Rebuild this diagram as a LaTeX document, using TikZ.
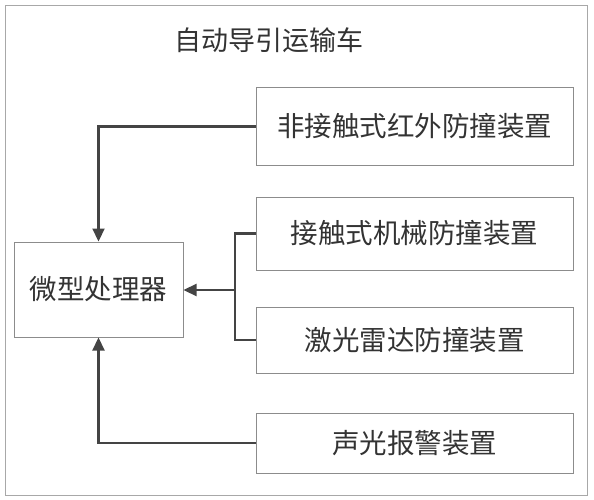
\documentclass[tikz,border=0pt]{standalone}
\usepackage{fontspec}
\newfontfamily\cjk{Noto Sans CJK SC}
\usetikzlibrary{arrows.meta}
\definecolor{boxgray}{HTML}{8C8C8C}
\definecolor{linegray}{HTML}{444444}
\definecolor{txtgray}{HTML}{333333}
\definecolor{framegray}{HTML}{A8A8A8}
\begin{document}
\begin{tikzpicture}[x=1pt,y=-1pt,
  box/.style={draw=boxgray, line width=1pt, rectangle, inner sep=0pt, minimum width=317pt,
    text=txtgray, font=\cjk\fontsize{27.5}{32}\selectfont},
  conn/.style={draw=linegray, line width=2.2pt},
  arr/.style={conn, -{Triangle[length=13pt,width=12pt]}}]
\useasboundingbox (0,0) rectangle (594,500);
\draw[framegray, line width=1pt] (5,6) rectangle (587,495);
\node[text=txtgray, font=\cjk\fontsize{27}{32}\selectfont] (title) at (269,40) {自动导引运输车};
\node[box, minimum height=77pt] (b1) at (414.5,126.5) {非接触式红外防撞装置};
\node[box, minimum height=73pt] (b2) at (414.5,233.5) {接触式机械防撞装置};
\node[box, minimum height=66pt] (b3) at (414.5,340) {激光雷达防撞装置};
\node[box, minimum height=60pt] (b4) at (414.5,443) {声光报警装置};
\node[box, minimum width=169pt, minimum height=95pt] (mp) at (98.5,289.5) {微型处理器};
\coordinate (j) at (235,290);
\draw[arr] (b1.west) -| (mp.north);
\draw[arr] (b4.west) -| (mp.south);
\draw[conn] (b2.west) -- (235,233.5) |- (b3.west);
\draw[arr] (j) -- (mp.east |- j);
\end{tikzpicture}
\end{document}
